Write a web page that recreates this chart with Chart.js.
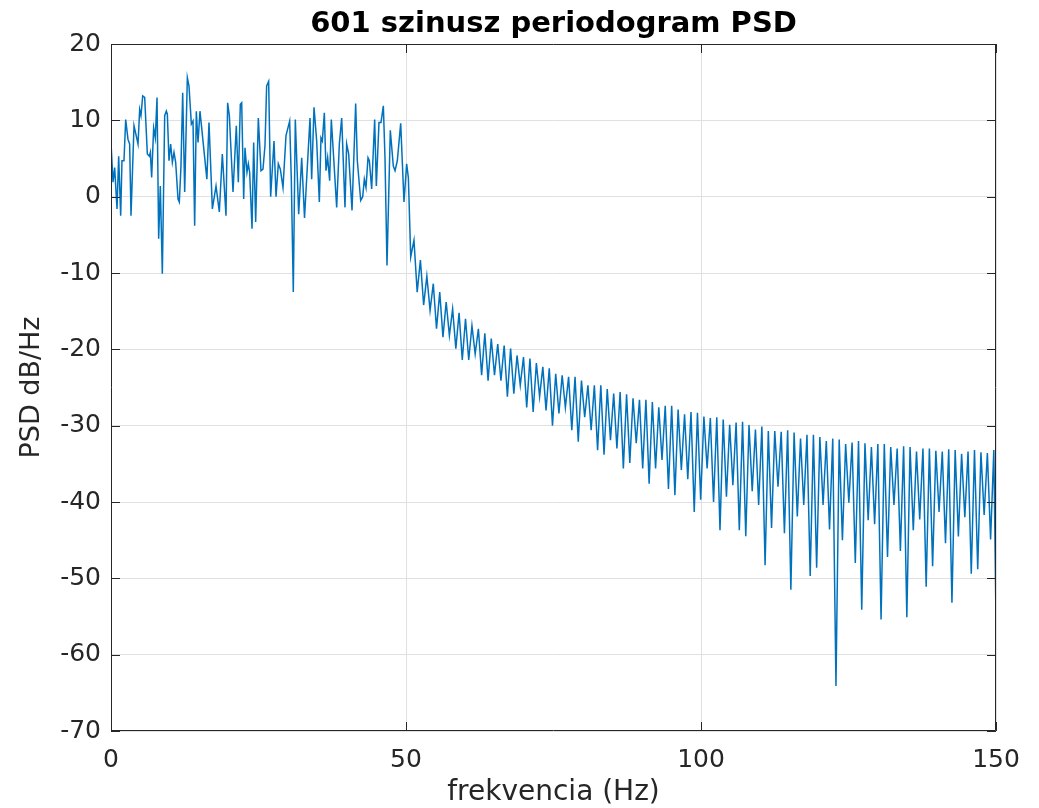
<!DOCTYPE html>
<html>
<head>
<meta charset="utf-8">
<script src="https://cdn.jsdelivr.net/npm/chart.js@4.4.1/dist/chart.umd.min.js"></script>
<style>
  body { margin: 0; background: #fff; }
  canvas { display: block; }
</style>
</head>
<body>
<canvas id="psdChart" width="1039" height="808"></canvas>
<script>
const ctx = document.getElementById('psdChart')

// 0..51 Hz: the noisy passband, vertices (Hz, dB/Hz)
const lowFreq = [
  0.0, 0.34, 0.62, 1.02, 1.30, 1.64, 1.86, 2.20, 2.49, 2.88, 3.16, 3.39, 3.90, 4.58, 4.86, 5.08,
  5.37, 5.71, 6.16, 6.50, 6.67, 6.89, 7.23, 7.51, 7.80, 8.08, 8.36, 8.70, 9.10, 9.38, 9.55, 9.83,
  10.11, 10.40, 10.68, 10.96, 11.36, 11.58, 11.86, 12.15, 12.49, 12.94, 13.22, 13.62, 13.90, 14.18,
  14.46, 14.75, 15.08, 16.25, 16.61, 17.18, 17.80, 18.36, 18.87, 19.49, 19.77, 20.06, 20.68, 21.24,
  21.58, 21.92, 22.15, 22.49, 22.71, 23.05, 23.28, 23.50, 23.90, 24.18, 24.52, 24.97, 25.42, 25.76,
  26.10, 26.38, 26.72, 27.06, 27.63, 27.97, 28.36, 28.70, 29.15, 29.66, 30.28, 30.56, 30.90, 31.24,
  31.81, 32.32, 32.80, 33.73, 34.01, 34.41, 34.86, 35.31, 35.59, 35.82, 36.16, 36.44, 36.72, 37.06,
  37.34, 37.74, 38.25, 38.70, 39.10, 39.66, 39.94, 40.28, 40.85, 41.47, 41.75, 42.32, 42.66, 42.94,
  43.22, 43.56, 43.79, 44.18, 44.69, 44.97, 45.42, 45.76, 46.16, 46.44, 46.78, 47.34, 47.85, 48.14,
  48.53, 49.10, 49.66, 50.11, 50.40, 50.80
]
const lowPsd = [
  7.1, 1.9, 3.8, -1.6, 5.3, -2.5, 4.7, 4.7, 10.1, 7.5, 6.9, -2.5, 9.3, 6.9, 11.4, 10.6,
  13.2, 13.0, 5.6, 5.3, 5.8, 2.5, 9.0, 7.7, 13.0, -5.5, 1.4, -10.1, 10.6, 11.2, 10.8, 4.7,
  6.9, 4.5, 5.8, 4.5, -0.3, -0.7, 4.0, 13.6, 0.6, 15.6, 14.5, 9.5, 9.9, -3.8,
  11.2, 7.1, 11.2, 2.3, 9.7, -1.6, 1.4, -2.0, 5.6, -2.5, 12.3, 10.6, 0.6, 9.3,
  1.9, 12.1, 12.3, -0.3, 6.4, 3.2, 4.3, 3.2, -4.2, 7.1, -3.3, 10.3, 3.4, 3.6,
  6.7, 14.5, 15.1, 0.0, 7.3, 0.0, 4.3, 3.6, 1.2, 8.0, 9.9, 2.3, -12.5, 10.1,
  -2.3, 5.1, -2.8, 10.3, 2.3, 11.7, 7.3, -0.7, 7.7, 7.3, 11.0, 3.4, 5.1, 2.1,
  10.1, 5.1, -1.4, 6.9, 10.3, -1.4, 6.9, 5.6, -1.8, 12.2, 4.7, -0.5, 0.0, 2.3,
  1.2, 5.1, 4.7, 1.0, 10.1, 1.4, 9.7, 9.7, 11.9, 5.1, -9.0, 8.7, 4.0, 3.4,
  4.7, 9.6, -0.7, 4.3, 2.5, -7.9
]

// above 51 Hz: sidelobe ripple, one peak and one dip per ripple period
const rippleStart = 51.35
const rippleStep = 1.092
const ripplePeak = [
  -5.7, -8.3, -10.4, -11.4, -12.5, -13.8, -14.7, -15.2, -16.0, -16.9, -17.3, -17.9, -18.6, -19.3, -19.5,
  -19.9, -20.8, -21.0, -21.2, -21.8, -22.3, -22.5, -23.2, -23.4, -23.6, -23.6, -24.1, -24.7, -24.7,
  -24.7, -25.2, -25.8, -25.6, -25.9, -26.4, -26.6, -26.6, -26.9, -27.6, -27.4, -27.4, -27.9, -28.5, -28.2,
  -28.3, -28.8, -29.0, -28.9, -29.2, -29.9, -29.6, -29.5, -29.9, -30.5, -30.1, -30.7, -30.7, -30.8, -30.6,
  -30.9, -31.7, -31.2, -31.2, -31.5, -32.0, -31.7, -31.8, -32.4, -32.2, -32.0, -32.3, -32.8, -32.4, -32.4,
  -32.8, -33.0, -32.7, -32.8, -33.4, -33.0, -33.0, -33.3, -33.4, -33.1, -33.2, -33.7, -33.4, -33.2, -33.5,
  -33.6, -33.2
]
const rippleDip = [
  -12.5, -14.2, -14.9, -17.3, -18.4, -18.2, -19.9, -21.4, -21.4, -20.6, -23.4, -24.1, -23.4, -24.1, -26.2,
  -25.8, -24.7, -27.6, -28.2, -26.2, -28.0, -30.0, -28.4, -27.6, -30.6, -32.1, -28.9, -30.6, -33.2,
  -33.8, -31.9, -33.0, -35.6, -34.9, -32.3, -35.6, -37.6, -35.6, -34.5, -38.3, -39.1, -35.8, -37.0, -41.3,
  -39.7, -35.6, -40.0, -43.7, -39.3, -37.8, -43.7, -44.5, -38.6, -40.4, -48.3, -43.4, -38.0, -44.1, -51.5,
  -41.9, -40.4, -49.7, -48.6, -40.4, -43.6, -64.1, -45.0, -40.1, -48.0, -54.1, -42.4, -42.9, -55.4, -47.2,
  -40.4, -46.4, -55.1, -43.7, -42.3, -51.1, -48.4, -41.3, -45.4, -53.2, -44.5, -42.0, -49.4, -48.8, -41.7,
  -44.9
]
const endFreq = 150
const endPsd = -55.5

const xTicks = [0, 50, 100, 150]
const yTicks = [-70, -60, -50, -40, -30, -20, -10, 0, 10, 20]

const points = lowFreq.map((f, i) => ({ x: f, y: lowPsd[i] }))
ripplePeak.forEach((p, k) => {
  const f = rippleStart + k * rippleStep
  points.push({ x: f, y: p })
  if (k < rippleDip.length) points.push({ x: f + rippleStep / 2, y: rippleDip[k] })
})
points.push({ x: endFreq, y: endPsd })

const axisColor = '#262626'
const font = 'DejaVu Sans'

// MATLAB style: closed box, ticks pointing inwards on all four sides, title over the axes
const matlabBox = {
  id: 'matlabBox',
  afterDraw(chart) {
    const { ctx, chartArea: a, scales } = chart
    const len = 9
    ctx.save()
    ctx.strokeStyle = axisColor
    ctx.lineWidth = 1
    ctx.beginPath()
    ctx.rect(Math.round(a.left) + 0.5, Math.round(a.top) + 0.5, Math.round(a.width) - 1, Math.round(a.height) - 1)
    xTicks.forEach(v => {
      const px = Math.round(scales.x.getPixelForValue(v)) + 0.5
      ctx.moveTo(px, a.bottom); ctx.lineTo(px, a.bottom - len)
      ctx.moveTo(px, a.top); ctx.lineTo(px, a.top + len)
    })
    yTicks.forEach(v => {
      const py = Math.round(scales.y.getPixelForValue(v)) + 0.5
      ctx.moveTo(a.left, py); ctx.lineTo(a.left + len, py)
      ctx.moveTo(a.right, py); ctx.lineTo(a.right - len, py)
    })
    ctx.stroke()

    ctx.fillStyle = '#000'
    ctx.font = 'bold 29px "' + font + '"'
    ctx.textAlign = 'center'
    ctx.textBaseline = 'middle'
    ctx.fillText('601 szinusz periodogram PSD', (a.left + a.right) / 2, 24)
    ctx.restore()
  }
}

new Chart(ctx, {
  type: 'line',
  data: {
    datasets: [
      {
        label: 'PSD',
        data: points,
        borderColor: '#0072BD',
        borderWidth: 1.5,
        pointRadius: 0,
        tension: 0,
        fill: false,
      },
    ],
  },
  options: {
    responsive: false,
    animation: false,
    devicePixelRatio: 1,
    layout: { padding: { left: 0, right: 43, top: 44, bottom: 0 } },
    plugins: {
      legend: { display: false },
      tooltip: { enabled: false },
      title: { display: false },
    },
    scales: {
      x: {
        type: 'linear',
        min: 0,
        max: 150,
        afterBuildTicks: scale => { scale.ticks = xTicks.map(v => ({ value: v })) },
        afterFit: scale => { scale.height = 77 },
        ticks: { color: axisColor, padding: 14, font: { family: font, size: 25 } },
        grid: { color: '#e0e0e0', drawTicks: false },
        border: { display: false },
        title: {
          display: true,
          text: 'frekvencia (Hz)',
          color: axisColor,
          font: { family: font, size: 28, lineHeight: 1 },
          padding: { top: 0, bottom: 1 },
        },
      },
      y: {
        type: 'linear',
        min: -70,
        max: 20,
        afterBuildTicks: scale => { scale.ticks = yTicks.map(v => ({ value: v })) },
        afterFit: scale => { scale.width = 111 },
        ticks: { color: axisColor, padding: 10, font: { family: font, size: 25 } },
        grid: { color: '#e0e0e0', drawTicks: false },
        border: { display: false },
        title: {
          display: true,
          text: 'PSD dB/Hz',
          color: axisColor,
          font: { family: font, size: 27, lineHeight: 1 },
          padding: { top: 18, bottom: 0 },
        },
      },
    },
  },
  plugins: [matlabBox],
})
</script>
</body>
</html>
